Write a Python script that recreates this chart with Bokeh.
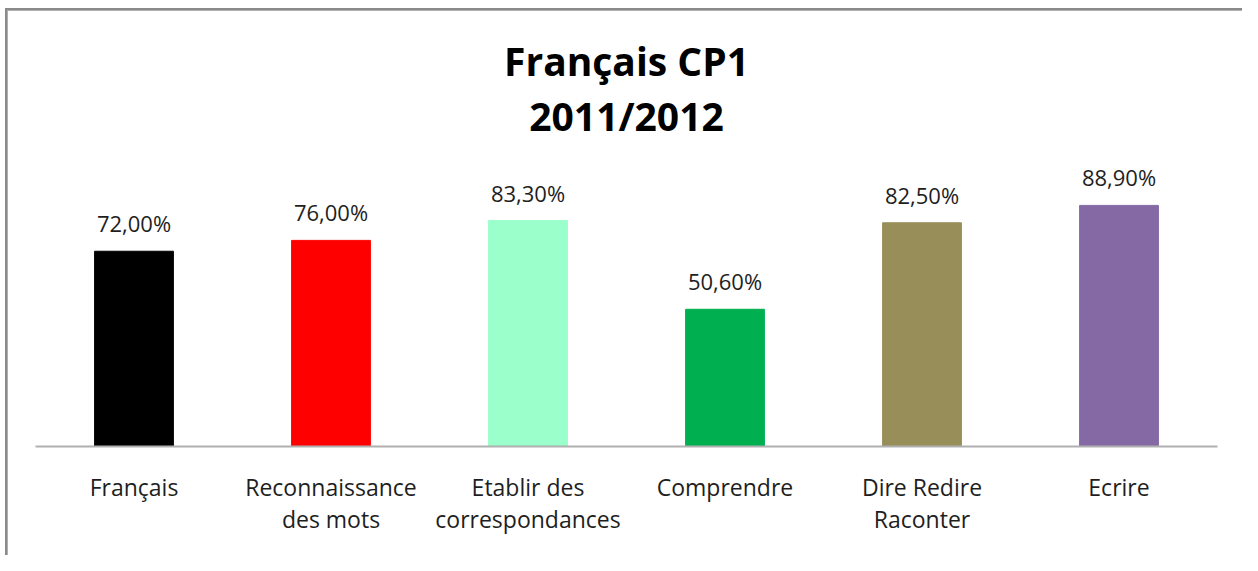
from bokeh.plotting import figure
from bokeh.models import FactorRange, Range1d, Label, ColumnDataSource
from bokeh.core.properties import value
from bokeh.embed import file_html
from bokeh.resources import INLINE

categories = ["Français", "Reconnaissance\ndes mots", "Etablir des\ncorrespondances",
              "Comprendre", "Dire Redire\nRaconter", "Ecrire"]
values = [72.0, 76.0, 83.3, 50.6, 82.5, 88.9]
colors = ["#000000", "#FF0000", "#9BFFCB", "#00B050", "#988E59", "#8469A5"]
value_labels = [f"{v:.2f}".replace(".", ",") + "%" for v in values]
title_lines = ["Français CP1", "2011/2012"]

FONT = "Open Sans"
W, H = 1242, 555
FRAME_H = 446
PX_PER_UNIT = 2.712
Y_MAX = FRAME_H / PX_PER_UNIT

border_css = ("linear-gradient(#8a8a8a,#8a8a8a) 5px 8px / 2px calc(100% - 8px) no-repeat, "
              "linear-gradient(#b0b0b0,#b0b0b0) 7px 10px / 1px calc(100% - 10px) no-repeat, "
              "linear-gradient(#8a8a8a,#8a8a8a) 5px 8px / calc(100% - 5px) 2px no-repeat, "
              "linear-gradient(#b0b0b0,#b0b0b0) 7px 10px / calc(100% - 7px) 1px no-repeat, "
              "#ffffff")

p = figure(width=W, height=H,
           x_range=FactorRange(factors=categories),
           y_range=Range1d(0, Y_MAX),
           output_backend="svg", toolbar_location=None,
           y_axis_location=None,
           min_border_left=35, min_border_right=25,
           min_border_top=0, min_border_bottom=H - FRAME_H,
           background_fill_color=None, border_fill_color=None,
           outline_line_color=None,
           styles={"background": border_css})

src = ColumnDataSource(dict(cat=categories, val=values, color=colors, lab=value_labels))
p.vbar(x="cat", top="val", width=0.4, color="color", source=src)
p.text(x="cat", y="val", text="lab", source=src,
       text_font=value(FONT), text_font_size="22px", text_color="#1e1e1e",
       text_align="center", text_baseline="alphabetic", y_offset=-28)

p.xgrid.visible = False
p.ygrid.visible = False
ax = p.xaxis[0]
ax.axis_line_color = "#b0b0b0"
ax.axis_line_width = 2
ax.major_tick_line_color = None
ax.minor_tick_line_color = None
ax.major_label_text_font = FONT
ax.major_label_text_font_size = "23px"
ax.major_label_text_color = "#1e1e1e"
ax.major_label_text_line_height = 1.0
ax.major_label_standoff = 18

def ydata(ref_px_above_axis):
    # height above the axis measured on the reference, converted to data units
    return ref_px_above_axis * 0.972 / PX_PER_UNIT

for txt, h in zip(title_lines, [397, 341]):
    p.add_layout(Label(x=3.0, y=ydata(h), text=txt, text_font=FONT,
                       text_font_style="bold", text_font_size="39px",
                       text_color="#000000", text_align="center",
                       text_baseline="middle"))

open("out.html", "w").write(file_html(p, INLINE))
